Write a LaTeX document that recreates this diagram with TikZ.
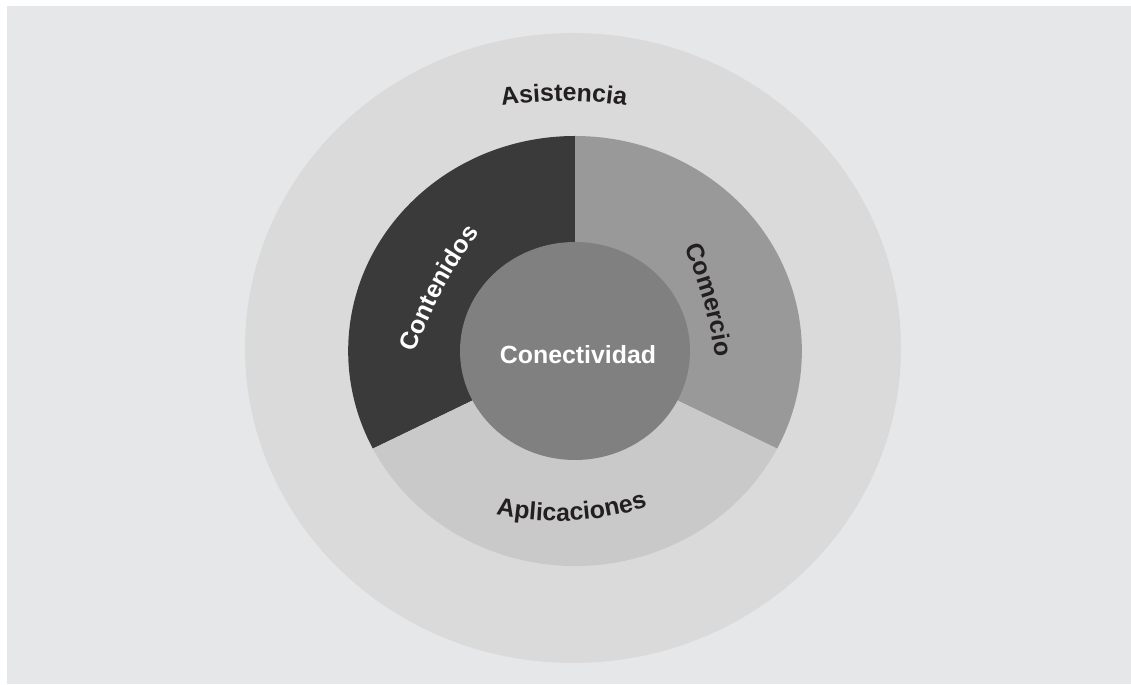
\documentclass[tikz,border=0pt]{standalone}
\usepackage{fontspec}
\setmainfont{Liberation Sans}
\usetikzlibrary{decorations.text}

\definecolor{bggray}{HTML}{E6E7E8}
\definecolor{outergray}{HTML}{DADADA}
\definecolor{contgray}{HTML}{3A3A3A}
\definecolor{comgray}{HTML}{999999}
\definecolor{aplgray}{HTML}{C9C9C9}
\definecolor{innergray}{HTML}{808080}
\definecolor{textdark}{HTML}{231F20}

\newcommand{\ringfont}{\fontsize{17.7}{20}\selectfont\bfseries}

\begin{document}
\begin{tikzpicture}[x=0.025cm, y=0.025cm]
    % Page and grey panel
    \useasboundingbox (0,0) rectangle (1131,684);
    \fill[white] (0,0) rectangle (1131,684);
    \fill[bggray] (7,0) rectangle (1131,678);
    % Outer disc (cut off on the right)
    \begin{scope}
      \clip (0,0) rectangle (902,684);
      \fill[outergray] (573,336) ellipse [x radius=328, y radius=315];
    \end{scope}
    % Ring of three sectors and the inner disc
    \begin{scope}[shift={(575,333)}, xscale=1.055]
      \fill[contgray] (0,0) -- (90:215) arc[start angle=90, end angle=207, radius=215] -- cycle;
      \fill[comgray] (0,0) -- (-27:215) arc[start angle=-27, end angle=90, radius=215] -- cycle;
      \fill[aplgray] (0,0) -- (207:215) arc[start angle=207, end angle=333, radius=215] -- cycle;
      \fill[innergray] (0,0) circle (109);
    \end{scope}
    % Curved labels
    \path[decorate, decoration={text along path, text align=center, text color=textdark,
        text={|\ringfont|Asistencia}}]
      (564,183) ++(102:400) arc[start angle=102, end angle=78, radius=400];
    \path[decorate, decoration={text along path, text align=center, text color=white,
        text={|\ringfont|Contenidos}}]
      (839.1,180.9) ++(166.8:450) arc[start angle=166.8, end angle=136.8, radius=450];
    \path[decorate, decoration={text along path, text align=center, text color=textdark,
        text={|\ringfont|Comercio}}]
      (319,273.6) ++(33.85:400) arc[start angle=33.85, end angle=-2.15, radius=400];
    \path[decorate, decoration={text along path, text align=center, text color=textdark,
        text={|\ringfont|Aplicaciones}}]
      (556.6,461) ++(253:298) arc[start angle=253, end angle=293, radius=298];
    % Centre label
    \node[anchor=base, text=white, font=\ringfont, inner sep=0pt] (conect) at (578,320) {Conectividad};
\end{tikzpicture}
\end{document}
